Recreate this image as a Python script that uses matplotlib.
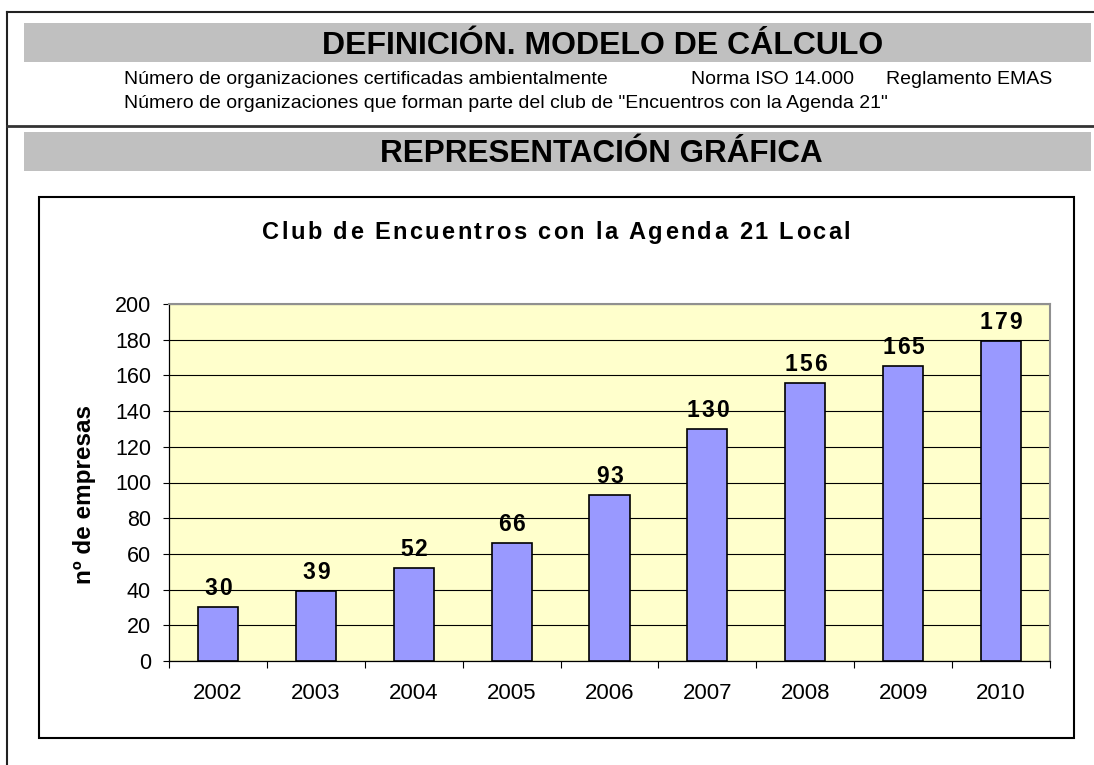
import matplotlib
matplotlib.use("Agg")
import matplotlib.pyplot as plt
from matplotlib.patches import Rectangle
from matplotlib.lines import Line2D
from matplotlib.font_manager import FontProperties, findfont
from matplotlib.ft2font import FT2Font
from matplotlib.ticker import FixedLocator, NullFormatter

# ── data ─────────────────────────────────────────────────────────────────────
years = ["2002", "2003", "2004", "2005", "2006", "2007", "2008", "2009", "2010"]
empresas = [30, 39, 52, 66, 93, 130, 156, 165, 179]
y_ticks = [0, 20, 40, 60, 80, 100, 120, 140, 160, 180, 200]

chart_title = "Club de Encuentros con la Agenda 21 Local"
y_label = "nº de empresas"
header_1 = "DEFINICIÓN. MODELO DE CÁLCULO"
header_2 = "REPRESENTACIÓN GRÁFICA"
def_line_1 = ["Número de organizaciones certificadas ambientalmente",
              "Norma ISO 14.000", "Reglamento EMAS"]
def_line_2 = 'Número de organizaciones que forman parte del club de "Encuentros con la Agenda 21"'

# ── page geometry (pixels, origin top-left) ─────────────────────────────────
W, H = 1094, 765
DPI = 100
SANS = ["Liberation Sans", "DejaVu Sans"]


def fx(x):
    return x / W


def fy(y):
    return 1 - y / H


fig = plt.figure(figsize=(W / DPI, H / DPI), dpi=DPI, facecolor="white")


def spaced_text(x, y, s, size, gap, weight="bold", family=SANS, color="black"):
    """Centered text at pixel x, baseline y, with extra letter spacing."""
    fp = FontProperties(family=family, weight=weight, size=size)
    font = FT2Font(findfont(fp))
    font.set_size(size, DPI)
    advs = [font.load_char(ord(c)).linearHoriAdvance / 65536 for c in s]
    total = sum(advs) + gap * (len(s) - 1)
    cx = x - total / 2
    for c, a in zip(s, advs):
        if c != " ":
            fig.text(fx(cx), fy(y), c, fontproperties=fp, color=color,
                     ha="left", va="baseline", zorder=10)
        cx += a + gap


# ── page frame + banners ────────────────────────────────────────────────────
line_kw = dict(transform=fig.transFigure, color="#222222", lw=1.5)
fig.add_artist(Line2D([fx(7), fx(W)], [fy(12), fy(12)], **line_kw))
fig.add_artist(Line2D([fx(7), fx(7)], [fy(12), fy(H)], **line_kw))
fig.add_artist(Line2D([fx(7), fx(W)], [fy(126), fy(126)],
                      transform=fig.transFigure, color="#333333", lw=2))

for top, bot in [(23, 62), (132, 171)]:
    fig.add_artist(Rectangle((fx(24), fy(bot)), fx(1091) - fx(24), (bot - top) / H,
                             transform=fig.transFigure, fc="#c0c0c0", ec="none",
                             zorder=0))

fig.text(fx(603), fy(53.5), header_1, family=SANS, weight="bold", size=23,
         ha="center", va="baseline")
fig.text(fx(601), fy(162.5), header_2, family=SANS, weight="bold", size=22.6,
         ha="center", va="baseline")

for txt, x0 in zip(def_line_1, [124, 691, 886]):
    fig.text(fx(x0), fy(84), txt, family=SANS, size=14, ha="left", va="baseline")
fig.text(fx(124), fy(108), def_line_2, family=SANS, size=14, ha="left", va="baseline")

# ── chart box ───────────────────────────────────────────────────────────────
fig.add_artist(Rectangle((fx(39), fy(738)), (1074 - 39) / W, (738 - 197) / H,
                         transform=fig.transFigure, fc="white", ec="black",
                         lw=1.5, zorder=1))

spaced_text(556, 239, chart_title, size=17, gap=2.4)

# ── plot area ───────────────────────────────────────────────────────────────
ax = fig.add_axes([fx(169), fy(661), (1050 - 169) / W, (661 - 304) / H], zorder=2)
ax.set_facecolor("#ffffcc")
x = list(range(len(years)))
ax.bar(x, empresas, width=0.41, color="#9999ff", edgecolor="black", lw=1.2, zorder=3)

ax.set_xlim(-0.5, len(years) - 0.5)
ax.set_ylim(0, 200)
ax.set_yticks(y_ticks)
ax.set_yticklabels([str(v) for v in y_ticks], family=SANS, size=15.5)
ax.tick_params(axis="y", direction="out", length=4.3, width=0.8, pad=8.6, colors="black")

ax.xaxis.set_major_locator(FixedLocator([i - 0.5 for i in range(len(years) + 1)]))
ax.xaxis.set_major_formatter(NullFormatter())
ax.xaxis.set_minor_locator(FixedLocator(x))
ax.set_xticklabels(years, minor=True, family=SANS, size=16)
ax.tick_params(axis="x", which="major", direction="out", length=5, width=0.8)
ax.tick_params(axis="x", which="minor", length=0, pad=16)

ax.grid(axis="y", color="black", lw=0.8, zorder=1)
ax.set_axisbelow(True)
for side in ["top", "right"]:
    ax.spines[side].set_color("#909090")
    ax.spines[side].set_linewidth(1.5)
for side in ["left", "bottom"]:
    ax.spines[side].set_color("black")
    ax.spines[side].set_linewidth(0.9)

fig.text(fx(84), fy(495), y_label, family=SANS, weight="bold", size=17.5,
         rotation=90, ha="center", va="center")

# value labels above the bars
for xi, v in zip(x, empresas):
    px, py = ax.transData.transform((xi, v))
    spaced_text(px, H - py - 12, str(v), size=16.5, gap=2)

fig.savefig("out.png", dpi=DPI, facecolor="white")
